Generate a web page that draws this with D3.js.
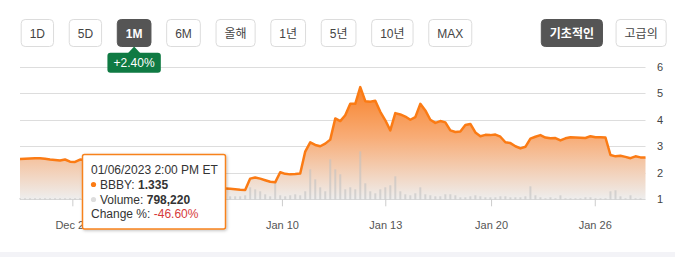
<!DOCTYPE html>
<html>
<head>
<meta charset="utf-8">
<script src="https://cdn.jsdelivr.net/npm/d3@7/dist/d3.min.js"></script>
<style>
  html, body { margin: 0; padding: 0; background: #fff; }
  svg { display: block; }
</style>
</head>
<body>
<div id="chart"></div>
<script>
// ---- data ----
const rangeButtons = ['1D', '5D', '1M', '6M', '올해', '1년', '5년', '10년', 'MAX']
const viewButtons = ['기초적인', '고급의']
const activeRange = '1M'
const activeView = '기초적인'
const periodChange = '+2.40%'

// price samples, evenly spaced in trading time
const price = [
  2.52, 2.53, 2.54, 2.55, 2.55, 2.53, 2.50, 2.48, 2.46, 2.50,
  2.42, 2.41, 2.50, 2.48, 2.45, 2.40, 2.35, 2.30, 2.25, 2.20,
  2.15, 2.05, 2.00, 1.95, 1.90, 1.85, 1.80, 1.70, 1.65, 1.60,
  1.55, 1.50, 1.48, 1.45, 1.42, 1.40, 1.38, 1.40, 1.42, 1.40,
  1.41, 1.41, 1.40, 1.38, 1.36, 1.35, 1.78, 1.82, 1.78, 1.72,
  1.66, 1.64, 2.02, 1.96, 1.94, 1.95, 1.97, 2.80, 3.15, 3.05,
  3.00, 3.10, 3.25, 4.05, 3.95, 4.17, 4.60, 4.60, 5.23, 4.70,
  4.68, 4.72, 4.30, 3.98, 3.60, 4.25, 4.20, 4.12, 4.00, 4.10,
  4.60, 4.35, 4.00, 3.88, 3.95, 3.90, 3.60, 3.54, 3.56, 3.80,
  3.84, 3.52, 3.38, 3.43, 3.42, 3.44, 3.36, 3.15, 3.12, 3.00,
  2.92, 2.98, 3.29, 3.36, 3.42, 3.33, 3.30, 3.31, 3.22, 3.30,
  3.34, 3.33, 3.32, 3.31, 3.38, 3.34, 3.34, 3.33, 2.67, 2.62,
  2.64, 2.60, 2.55, 2.62, 2.58, 2.58
]

// volume, millions of shares, same sampling
const volume = [
  0.5, 0.5, 0.5, 0.5, 0.5, 0.5, 0.5, 0.5, 0.5, 0.5,
  0.5, 0.5, 0.5, 1, 1, 1, 1, 1, 1, 1,
  1, 1, 1, 2, 2, 2, 2, 2, 2, 2,
  2, 2, 2, 2, 2, 2, 2, 2, 1.5, 1.5,
  1.5, 1.5, 1.5, 1.5, 1.5, 2, 6, 5, 4, 2.5,
  1.5, 8.5, 2, 1.5, 2, 2.5, 2, 4, 15, 10,
  6, 4, 20, 15, 12.5, 5, 6, 5, 24, 8,
  4, 3, 5, 6, 7, 11.5, 4, 2.5, 2, 3,
  6, 2.5, 2, 1.5, 1.5, 2.5, 2.5, 2, 1, 1,
  1.5, 2, 1.5, 1, 1, 1, 1.5, 1.5, 1, 1,
  1, 1.5, 6.5, 2, 1, 0.5, 1, 0.5, 2, 0.5,
  0.5, 0.5, 0.5, 1, 1, 0.5, 0.5, 0.5, 4, 4.5,
  1.5, 0.5, 2, 0.5, 0.5, 0
]

const yTicks = [1, 2, 3, 4, 5, 6]
const xTickLabels = ['Dec 29', 'Jan 10', 'Jan 13', 'Jan 20', 'Jan 26']
const xTickIndex = [10.46, 52.34, 73, 94.14, 114.86]

// tooltip content
const tipDate = '01/06/2023 2:00 PM ET'
const tipSymbol = 'BBBY'
const tipPrice = '1.335'
const tipVolume = '798,220'
const tipChange = '-46.60%'

// ---- layout ----
const W = 675, H = 257
const FONT = '"Liberation Sans", Arial, "Noto Sans CJK KR", sans-serif'
const plot = { left: 20, right: 645.5, top: 66.7, bottom: 199.3 }
const ORANGE = '#fb7b14'

const svg = d3.select('#chart').append('svg')
  .attr('width', W).attr('height', H)
  .attr('viewBox', `0 0 ${W} ${H}`)

const defs = svg.append('defs')
const grad = defs.append('linearGradient')
  .attr('id', 'areaGrad')
  .attr('gradientUnits', 'userSpaceOnUse')
  .attr('x1', 0).attr('x2', 0)
  .attr('y1', 86).attr('y2', plot.bottom)
grad.append('stop').attr('offset', '0%').attr('stop-color', '#f88128')
grad.append('stop').attr('offset', '45%').attr('stop-color', '#f8ac76')
grad.append('stop').attr('offset', '100%').attr('stop-color', '#eeeeee')

const shadow = defs.append('filter').attr('id', 'tipShadow')
  .attr('x', '-10%').attr('y', '-10%').attr('width', '130%').attr('height', '130%')
shadow.append('feDropShadow')
  .attr('dx', 1).attr('dy', 1).attr('stdDeviation', 1.5)
  .attr('flood-color', '#000').attr('flood-opacity', 0.25)

// ---- buttons ----
function drawButtons(labels, active, startX, align) {
  const g = svg.append('g')
  const pad = 9, gap = align === 'left' ? 14.7 : 12.6
  const items = labels.map(label => {
    const t = g.append('text')
      .attr('font-family', FONT)
      .attr('font-size', '12px')
      .attr('font-weight', label === active ? 'bold' : 'normal')
      .text(label)
    const w = t.node().getComputedTextLength() + pad * 2
    return { label, t, w }
  })
  let x = startX
  if (align === 'right') {
    x = startX - d3.sum(items, d => d.w) - gap * (items.length - 1)
  }
  items.forEach(d => {
    const on = d.label === active
    g.insert('rect', 'text')
      .attr('x', x + 0.5).attr('y', 19.5)
      .attr('width', d.w - 1).attr('height', 27)
      .attr('rx', 4)
      .attr('fill', on ? '#555555' : '#ffffff')
      .attr('stroke', on ? '#555555' : '#dcdcdc')
    d.t.attr('x', x + d.w / 2).attr('y', 37.5)
      .attr('text-anchor', 'middle')
      .attr('fill', on ? '#ffffff' : '#444444')
    d.cx = x + d.w / 2
    x += d.w + gap
  })
  return items
}

const rangeItems = drawButtons(rangeButtons, activeRange, 20.7, 'left')
drawButtons(viewButtons, activeView, 666.7, 'right')

// ---- scales ----
const x = d3.scaleLinear()
  .domain([0, price.length - 1])
  .range([plot.left, plot.right])

const y = d3.scaleLinear()
  .domain([1, 6])
  .range([plot.bottom, plot.top])

const vy = d3.scaleLinear()
  .domain([0, 25])
  .range([0, 50])

// gridlines
svg.append('g')
  .selectAll('line')
  .data(yTicks)
  .join('line')
  .attr('x1', plot.left).attr('x2', plot.right)
  .attr('y1', d => Math.round(y(d)) + 0.5).attr('y2', d => Math.round(y(d)) + 0.5)
  .attr('stroke', d => d === 1 ? '#cfcfcf' : '#dddddd')
  .attr('stroke-width', 1)

// area + volume + line
const idx = d3.range(price.length)

svg.append('path')
  .datum(idx)
  .attr('fill', 'url(#areaGrad)')
  .attr('d', d3.area()
    .x(i => x(i))
    .y0(plot.bottom)
    .y1(i => y(price[i])))

svg.append('g')
  .selectAll('rect')
  .data(idx)
  .join('rect')
  .attr('x', i => x(i) - 1)
  .attr('width', 2)
  .attr('y', i => plot.bottom - vy(volume[i]))
  .attr('height', i => vy(volume[i]))
  .attr('fill', '#c2c2c2')
  .attr('opacity', 0.6)

svg.append('path')
  .datum(idx)
  .attr('fill', 'none')
  .attr('stroke', ORANGE)
  .attr('stroke-width', 2.5)
  .attr('stroke-linejoin', 'round')
  .attr('d', d3.line()
    .x(i => x(i))
    .y(i => y(price[i])))

// x axis
svg.append('g')
  .attr('transform', `translate(0,${plot.bottom})`)
  .call(d3.axisBottom(x)
    .tickValues(xTickIndex)
    .tickSize(7)
    .tickFormat((d, i) => xTickLabels[i]))
  .call(g => {
    g.select('.domain').remove()
    g.selectAll('.tick line').attr('stroke', '#cccccc')
    g.selectAll('.tick text')
      .attr('dy', 0).attr('y', 29.5)
      .attr('fill', '#555555')
      .attr('font-size', '11px')
      .attr('font-family', FONT)
  })

// y axis (right side)
svg.append('g')
  .attr('transform', `translate(657,0)`)
  .call(d3.axisRight(y).tickValues(yTicks).tickSize(0).tickFormat(d3.format('d')))
  .call(g => {
    g.select('.domain').remove()
    g.selectAll('.tick text')
      .attr('x', 0)
      .attr('fill', '#444444')
      .attr('font-size', '11px')
      .attr('font-family', FONT)
  })

// ---- period change badge ----
const bx = rangeItems.find(d => d.label === activeRange).cx
const badge = svg.append('g')
badge.append('path')
  .attr('d', `M${bx - 6},53 L${bx},46.5 L${bx + 6},53 Z`)
  .attr('fill', '#0f7a43')
badge.append('rect')
  .attr('x', bx - 26.7).attr('y', 52.7)
  .attr('width', 53.4).attr('height', 20)
  .attr('rx', 3)
  .attr('fill', '#0f7a43')
badge.append('text')
  .attr('x', bx).attr('y', 66.8)
  .attr('text-anchor', 'middle')
  .attr('fill', '#ffffff')
  .attr('font-size', '12px')
  .attr('font-family', FONT)
  .text(periodChange)

// ---- tooltip ----
const tip = svg.append('g')
tip.append('rect')
  .attr('x', 82.5).attr('y', 154.5)
  .attr('width', 143).attr('height', 74.5)
  .attr('rx', 2)
  .attr('fill', '#ffffff')
  .attr('stroke', '#f7821e')
  .attr('stroke-width', 1.5)
  .attr('filter', 'url(#tipShadow)')

const tx = 91
const lines = [174, 188.5, 203.5, 218]
const tipText = (yy) => tip.append('text')
  .attr('x', tx).attr('y', yy)
  .attr('font-size', '12px')
  .attr('font-family', FONT)
  .attr('fill', '#333333')

tipText(lines[0]).text(tipDate)

tip.append('circle').attr('cx', tx + 2.5).attr('cy', lines[1] - 4).attr('r', 2.6).attr('fill', ORANGE)
const t2 = tipText(lines[1]).attr('x', tx + 9)
t2.append('tspan').text(tipSymbol + ': ')
t2.append('tspan').attr('font-weight', 'bold').text(tipPrice)

tip.append('circle').attr('cx', tx + 2.5).attr('cy', lines[2] - 4).attr('r', 2.6).attr('fill', '#dddddd')
const t3 = tipText(lines[2]).attr('x', tx + 9)
t3.append('tspan').text('Volume: ')
t3.append('tspan').attr('font-weight', 'bold').text(tipVolume)

const t4 = tipText(lines[3])
t4.append('tspan').text('Change %: ')
t4.append('tspan').attr('fill', '#d63a3a').text(tipChange)

// bottom page band
svg.append('rect')
  .attr('x', 0).attr('y', 252)
  .attr('width', W).attr('height', 5)
  .attr('fill', '#f3f3f7')
</script>
</body>
</html>
